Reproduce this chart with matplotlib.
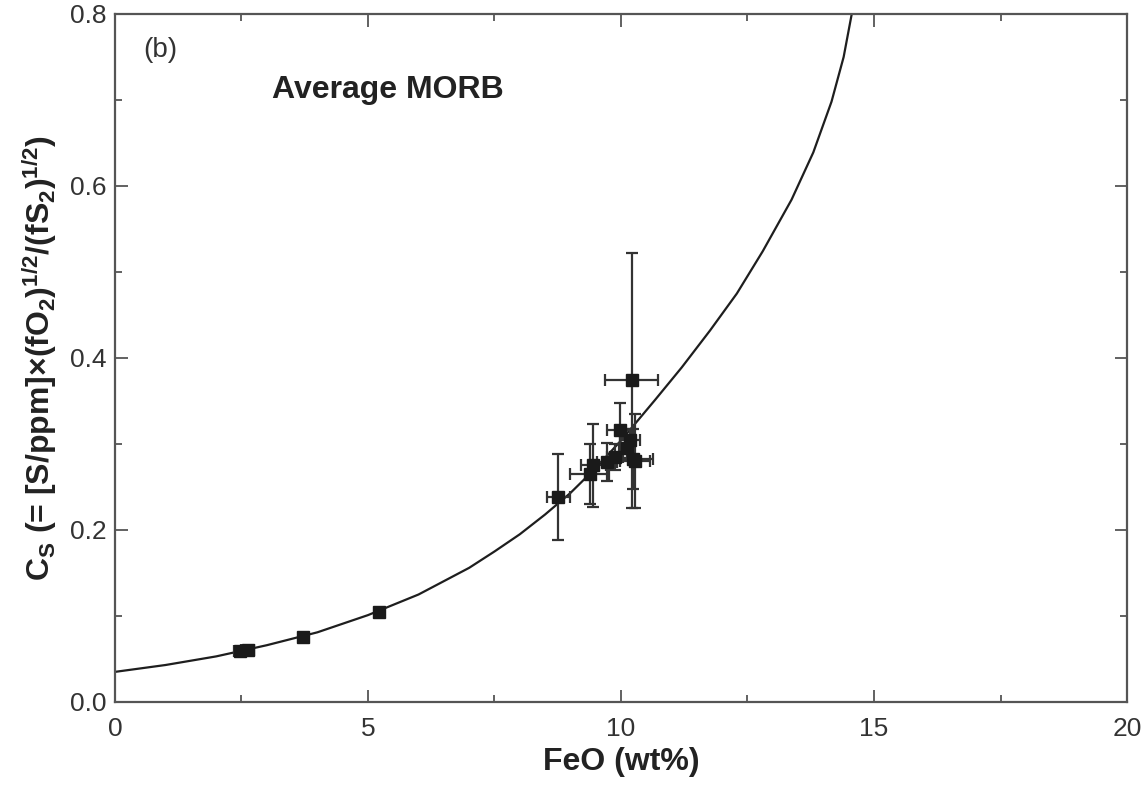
import matplotlib
matplotlib.use("Agg")
import matplotlib.pyplot as plt
from matplotlib.ticker import MultipleLocator

plt.rcParams['font.family'] = ['Liberation Sans', 'DejaVu Sans']
plt.rcParams['mathtext.fontset'] = 'custom'
plt.rcParams['mathtext.rm'] = 'Liberation Sans:bold'
plt.rcParams['mathtext.it'] = 'Liberation Sans:bold'
plt.rcParams['mathtext.bf'] = 'Liberation Sans:bold'

# Model curve
curve_feo = [0, 1, 2, 3, 4, 5, 6, 7, 7.5, 8, 8.5, 9, 9.5, 10, 10.67, 11.2, 11.76,
             12.29, 12.8, 13.37, 13.8, 14.16, 14.4, 14.56]
curve_cs = [0.035, 0.043, 0.053, 0.066, 0.081, 0.101, 0.125, 0.156, 0.175, 0.195, 0.218,
            0.243, 0.272, 0.304, 0.351, 0.389, 0.432, 0.475, 0.524, 0.584, 0.639,
            0.698, 0.750, 0.800]

# Data points
feo = [2.47, 2.62, 3.71, 5.22, 8.76, 9.38, 9.45, 9.73, 9.88, 9.99, 10.11, 10.18, 10.21, 10.24, 10.28]
cs = [0.0597, 0.0600, 0.0752, 0.105, 0.238, 0.265, 0.275, 0.279, 0.285, 0.316, 0.295, 0.305, 0.374, 0.283, 0.280]
feo_err = [0.12, 0.12, 0.05, 0.05, 0.23, 0.38, 0.25, 0.20, 0.15, 0.26, 0.15, 0.20, 0.53, 0.40, 0.30]
cs_err = [0.0, 0.0, 0.0, 0.0, 0.05, 0.035, 0.048, 0.022, 0.015, 0.032, 0.012, 0.012, 0.148, 0.035, 0.055]

fig = plt.figure(figsize=(11.45, 7.86), dpi=100)
ax = fig.add_axes([0.1004, 0.1069, 0.8839, 0.8753])

ax.plot(curve_feo, curve_cs, color='#1e1e1e', lw=1.6, zorder=2)
ax.errorbar(feo, cs, xerr=feo_err, yerr=cs_err, fmt='s', ms=8.5, color='#1a1a1a',
            mfc='#1a1a1a', mec='#1a1a1a', ecolor='#333333', elinewidth=1.6,
            capsize=4.5, capthick=1.6, zorder=3)

ax.set_xlim(0, 20)
ax.set_ylim(0, 0.8)
ax.xaxis.set_minor_locator(MultipleLocator(2.5))
ax.yaxis.set_minor_locator(MultipleLocator(0.1))
ax.set_xticks([0, 5, 10, 15, 20])
ax.set_xticklabels(['0', '5', '10', '15', '20'])
ax.set_yticks([0.0, 0.2, 0.4, 0.6, 0.8])
ax.set_yticklabels(['0.0', '0.2', '0.4', '0.6', '0.8'])

ax.tick_params(which='both', direction='in', top=True, right=True, colors='#555555',
               labelcolor='#333333', labelsize=19, width=1.3)
ax.tick_params(which='major', length=9)
ax.tick_params(which='minor', length=5)
ax.tick_params(axis='x', which='major', pad=11)
ax.tick_params(axis='y', which='major', pad=6)
for s in ax.spines.values():
    s.set_color('#555555')
    s.set_linewidth(1.6)

ax.set_xlabel('FeO (wt%)', fontsize=23, fontweight='bold', color='#222222', labelpad=4)
ax.set_ylabel(r'C$_\mathrm{S}$ (= [S/ppm]×(fO$_2$)$^{1/2}$/(fS$_2$)$^{1/2}$)',
              fontsize=23, fontweight='bold', color='#222222', labelpad=8)

ax.text(0.55, 0.758, '(b)', fontsize=20, color='#333333', va='center', ha='left')
ax.text(3.1, 0.712, 'Average MORB', fontsize=23, fontweight='bold', color='#222222',
        va='center', ha='left')

fig.savefig('out.png', dpi=100)
